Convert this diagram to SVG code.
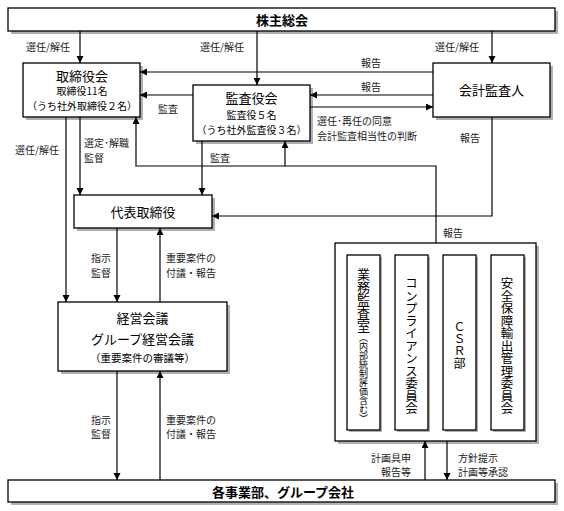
<svg xmlns="http://www.w3.org/2000/svg" width="564" height="511" viewBox="0 0 564 511">
<style>
.bx{fill:#fff;stroke:#000;stroke-width:1.3}
.sh{fill:#b0b0b0;stroke:none}
.t{font-family:"Noto Sans CJK JP","Noto Sans",sans-serif;fill:#000;dominant-baseline:central}
.c{text-anchor:middle}
.b{font-weight:bold}
.lb{font-family:"Noto Sans CJK JP","Noto Sans",sans-serif;fill:#222;font-size:10px;dominant-baseline:central}
.ln{fill:none;stroke:#000;stroke-width:1.2}
.v{writing-mode:vertical-rl;font-family:"Noto Sans CJK JP",sans-serif;fill:#000}
</style>
<defs>
<marker id="ah" markerUnits="userSpaceOnUse" markerWidth="8" markerHeight="8" refX="7" refY="3.5" orient="auto">
<path d="M0,0 L7,3.5 L0,7 z" fill="#000"/>
</marker>
</defs>
<rect width="564" height="511" fill="#fff"/>

<g id="shareholders">
<rect class="sh" x="11" y="11" width="547" height="23"/>
<rect class="bx" x="8" y="8" width="547" height="23"/>
<text class="t c b" x="282" y="19.5" font-size="13">株主総会</text>
</g>

<g id="board">
<rect class="sh" x="26" y="66" width="117" height="54"/>
<rect class="bx" x="23" y="63" width="117" height="54"/>
<text class="t c" x="82" y="75" font-size="13">取締役会</text>
<text class="t c" x="82" y="90.5" font-size="10">取締役11名</text>
<text class="t c" x="82" y="105.5" font-size="10">（うち社外取締役２名）</text>
</g>

<g id="auditors">
<rect class="sh" x="196" y="88" width="117" height="56"/>
<rect class="bx" x="193" y="85" width="117" height="56"/>
<text class="t c" x="251.5" y="97" font-size="13">監査役会</text>
<text class="t c" x="251.5" y="114" font-size="10">監査役５名</text>
<text class="t c" x="251.5" y="129.5" font-size="10">（うち社外監査役３名）</text>
</g>

<g id="accounting-auditor">
<rect class="sh" x="436" y="66" width="117" height="54"/>
<rect class="bx" x="433" y="63" width="117" height="54"/>
<text class="t c" x="491.5" y="89" font-size="13">会計監査人</text>
</g>

<g id="representative">
<rect class="sh" x="77" y="198" width="138" height="33"/>
<rect class="bx" x="74" y="195" width="138" height="33"/>
<text class="t c" x="143" y="211.5" font-size="13">代表取締役</text>
</g>

<g id="management">
<rect class="sh" x="61" y="305" width="169" height="69"/>
<rect class="bx" x="58" y="302" width="169" height="69"/>
<text class="t c" x="142.5" y="317" font-size="13">経営会議</text>
<text class="t c" x="142.5" y="338" font-size="13">グループ経営会議</text>
<text class="t c" x="142.5" y="357" font-size="10.5">（重要案件の審議等）</text>
</g>

<g id="divisions">
<rect class="sh" x="11" y="483" width="547" height="22"/>
<rect class="bx" x="8" y="480" width="547" height="22"/>
<text class="t c b" x="283" y="491" font-size="13">各事業部、グループ会社</text>
</g>

<g id="committees">
<rect class="sh" x="338" y="246" width="201" height="198"/>
<rect class="bx" x="335" y="243" width="201" height="198"/>
<g id="internal-audit">
<rect class="sh" x="349" y="257" width="33" height="175"/>
<rect class="bx" x="347" y="255" width="33" height="175"/>
<text class="v" x="363.5" y="268" style="font-size:13px">業務監査室</text>
<text class="v" x="363.5" y="333" style="font-size:9px">（内部統制評価含む）</text>
</g>
<g id="compliance">
<rect class="sh" x="397" y="257" width="33" height="175"/>
<rect class="bx" x="395" y="255" width="33" height="175"/>
<text class="v" x="411.5" y="277" style="font-size:12.5px">コンプライアンス委員会</text>
</g>
<g id="csr">
<rect class="sh" x="445" y="257" width="33" height="175"/>
<rect class="bx" x="443" y="255" width="33" height="175"/>
<text class="v" x="459.5" y="321" style="font-size:12px">ＣＳＲ部</text>
</g>
<g id="export-control">
<rect class="sh" x="493" y="257" width="33" height="175"/>
<rect class="bx" x="491" y="255" width="33" height="175"/>
<text class="v" x="507" y="277" style="font-size:12.5px">安全保障輸出管理委員会</text>
</g>
</g>

<g id="connectors">
<path class="ln" d="M80,31 V63" marker-end="url(#ah)"/>
<path class="ln" d="M257,31 V85" marker-end="url(#ah)"/>
<path class="ln" d="M492,31 V63" marker-end="url(#ah)"/>
<path class="ln" d="M433,72 H140" marker-end="url(#ah)"/>
<path class="ln" d="M433,95 H310" marker-end="url(#ah)"/>
<path class="ln" d="M310,107 H433" marker-end="url(#ah)"/>
<path class="ln" d="M193,95 H140" marker-end="url(#ah)"/>
<path class="ln" d="M436,243 V166 H136 V117" marker-end="url(#ah)"/>
<path class="ln" d="M285,166 V141" marker-end="url(#ah)"/>
<path class="ln" d="M202,141 V195" marker-end="url(#ah)"/>
<path class="ln" d="M492,117 V216 H212" marker-end="url(#ah)"/>
<path class="ln" d="M80,117 V195" marker-end="url(#ah)"/>
<path class="ln" d="M66,117 V302" marker-end="url(#ah)"/>
<path class="ln" d="M117,228 V302" marker-end="url(#ah)"/>
<path class="ln" d="M160,302 V228" marker-end="url(#ah)"/>
<path class="ln" d="M117,371 V480" marker-end="url(#ah)"/>
<path class="ln" d="M160,480 V371" marker-end="url(#ah)"/>
<path class="ln" d="M425,480 V441" marker-end="url(#ah)"/>
<path class="ln" d="M447,441 V480" marker-end="url(#ah)"/>

<text class="lb" x="26" y="46">選任/解任</text>
<text class="lb" x="200" y="46">選任/解任</text>
<text class="lb" x="435" y="46">選任/解任</text>
<text class="lb" x="361" y="62">報告</text>
<text class="lb" x="361" y="86">報告</text>
<text class="lb" x="158" y="108">監査</text>
<text class="lb" x="317" y="120">選任･再任の同意</text>
<text class="lb" x="317" y="135">会計監査相当性の判断</text>
<text class="lb" x="460" y="137">報告</text>
<text class="lb" x="84" y="142.5">選定･解職</text>
<text class="lb" x="84" y="157.5">監督</text>
<text class="lb" x="15" y="149">選任/解任</text>
<text class="lb" x="210" y="157">監査</text>
<text class="lb" x="443" y="232">報告</text>
<text class="lb" x="91" y="257">指示</text>
<text class="lb" x="91" y="272">監督</text>
<text class="lb" x="166" y="257">重要案件の</text>
<text class="lb" x="166" y="272">付議・報告</text>
<text class="lb" x="91" y="419">指示</text>
<text class="lb" x="91" y="433">監督</text>
<text class="lb" x="166" y="419">重要案件の</text>
<text class="lb" x="166" y="433">付議・報告</text>
<text class="lb" x="411" y="457" text-anchor="end">計画具申</text>
<text class="lb" x="411" y="471" text-anchor="end">報告等</text>
<text class="lb" x="458" y="457">方針提示</text>
<text class="lb" x="458" y="471">計画等承認</text>
</g>
</svg>
